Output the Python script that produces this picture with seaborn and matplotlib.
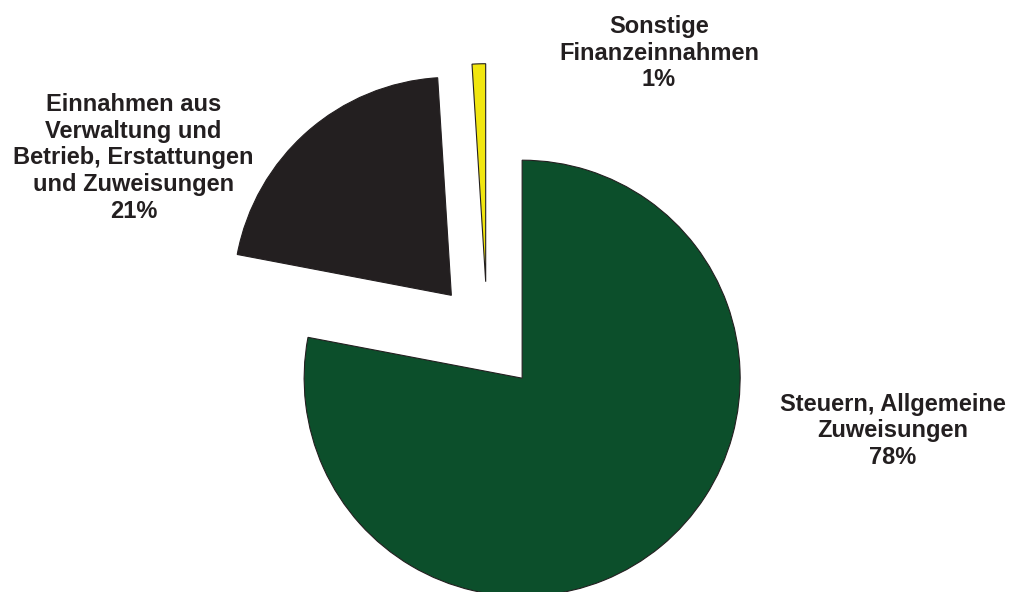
import matplotlib.pyplot as plt
import seaborn as sns

# Einnahmen nach Arten (Anteile in %)
categories = [
    "Steuern, Allgemeine\nZuweisungen",
    "Einnahmen aus\nVerwaltung und\nBetrieb, Erstattungen\nund Zuweisungen",
    "Sonstige\nFinanzeinnahmen",
]
shares = [78, 21, 1]
colors = ["#0c4f2b", "#231f20", "#f1e60f"]
explode = [0.25, 0.25, 0.25]

# label anchors in figure fraction (center x, top y)
label_pos = [(0.8824, 0.3367), (0.1319, 0.8424), (0.6512, 0.9747)]

sns.set_theme(style="white")
plt.rcParams["font.family"] = ["Liberation Sans", "DejaVu Sans"]

fig = plt.figure(figsize=(10.12, 5.92), dpi=100)
ax = fig.add_axes([0, 0, 1, 1])

ax.pie(
    shares,
    colors=colors,
    explode=explode,
    startangle=90,
    counterclock=False,
    wedgeprops=dict(edgecolor="#231f20", linewidth=0.8),
)

# pixel scale: radius of 218 px, pie center at (487, 336) from top-left
r = 218
cx, cy = 487.4, 336.2
ax.set_xlim(-cx / r, (1012 - cx) / r)
ax.set_ylim(-(592 - cy) / r, cy / r)
ax.set_aspect("equal")
ax.axis("off")

for name, share, (x, y) in zip(categories, shares, label_pos):
    fig.text(
        x, y, f"{name}\n{share}%",
        ha="center", va="top", multialignment="center",
        fontsize=17, fontweight="bold", color="#231f20",
    )

fig.savefig("out.png", dpi=100)
